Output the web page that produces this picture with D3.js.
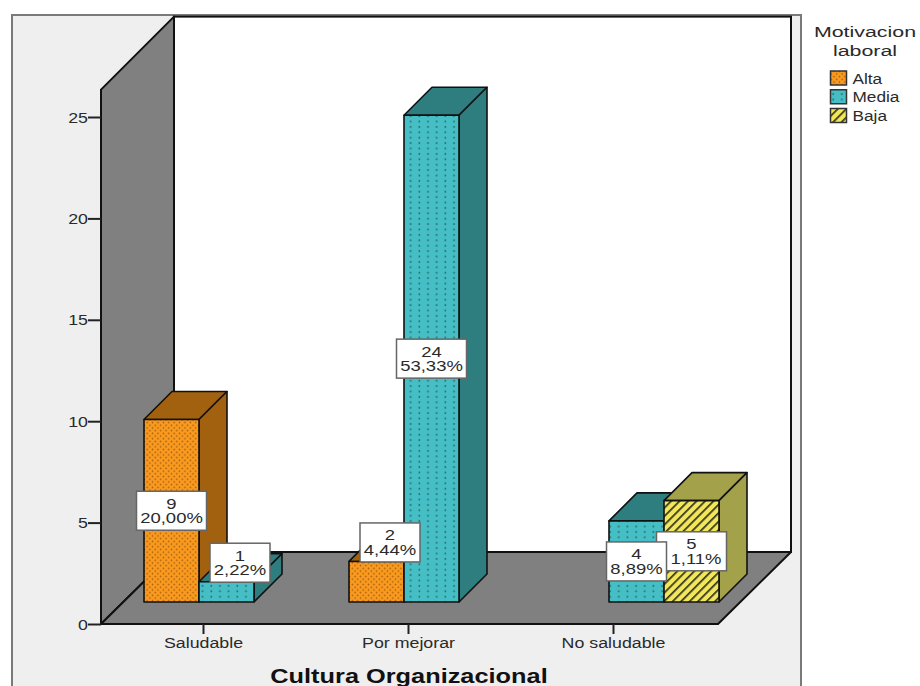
<!DOCTYPE html>
<html>
<head>
<meta charset="utf-8">
<script src="https://cdn.jsdelivr.net/npm/d3@7/dist/d3.min.js"></script>
<style>
  html, body { margin: 0; padding: 0; background: #fff; }
  svg { display: block; }
  text { font-family: "Liberation Sans", Arial, sans-serif; fill: #2a2a2a; }
</style>
</head>
<body>
<svg id="chart" width="920" height="686"></svg>
<script>
// Chart values
const categories = ["Saludable", "Por mejorar", "No saludable"];
const seriesNames = ["Alta", "Media", "Baja"];
const altaValues = [9, 2, null];
const mediaValues = [1, 24, 4];
const bajaValues = [null, null, 5];
const altaPercents = ["20,00%", "4,44%", null];
const mediaPercents = ["2,22%", "53,33%", "8,89%"];
const bajaPercents = [null, null, "1,11%"];
const yTicks = [0, 5, 10, 15, 20, 25];
const xTitle = "Cultura Organizacional";
const legendTitle = ["Motivacion", "laboral"];

const seriesValues = [altaValues, mediaValues, bajaValues];
const seriesPercents = [altaPercents, mediaPercents, bajaPercents];

const svg = d3.select("#chart");
const widen = 1.27;           // the type is set wider than its natural proportions

// Scales: the category band runs along the front edge of the floor
const x = d3.scaleBand().domain(categories).range([101, 716]);
const y = d3.scaleLinear().domain([0, 25]).range([624, 117]);
const slot = d3.scaleBand().domain(seriesNames).range([-59.5, 105.5]);

// 3D projection offsets
const wallDepth = 73;         // floor depth, in both x and y
const barDepth = 28;          // bar depth, in both x and y
const floorInset = 22;        // how far the bars stand back from the floor's front edge

const left = x.range()[0], right = 718, base = y(0), wallTop = y(26.35);

const fills = {
  Alta:  { front: "url(#patAlta)",  side: "#a2610f", top: "#a2610f" },
  Media: { front: "url(#patMedia)", side: "#2e7d7f", top: "#2e7d7f" },
  Baja:  { front: "url(#patBaja)",  side: "#a3a14a", top: "#a3a14a" }
};

// Fill patterns
const defs = svg.append("defs");
const altaPat = defs.append("pattern").attr("id", "patAlta").attr("patternUnits", "userSpaceOnUse")
  .attr("width", 5.4).attr("height", 5.4);
altaPat.append("rect").attr("width", 5.4).attr("height", 5.4).attr("fill", "#fb9a1e");
[[1.35, 1.35], [4.05, 4.05]].forEach(d => altaPat.append("circle").attr("cx", d[0]).attr("cy", d[1]).attr("r", 0.8).attr("fill", "#9a5f12"));

const mediaPat = defs.append("pattern").attr("id", "patMedia").attr("patternUnits", "userSpaceOnUse")
  .attr("width", 8.67).attr("height", 5.4);
mediaPat.append("rect").attr("width", 8.67).attr("height", 5.4).attr("fill", "#45bfc5");
mediaPat.append("rect").attr("x", 2.4).attr("y", 1.7).attr("width", 1.6).attr("height", 2).attr("fill", "#2b7475");

const bajaPat = defs.append("pattern").attr("id", "patBaja").attr("patternUnits", "userSpaceOnUse")
  .attr("width", 6).attr("height", 6).attr("patternTransform", "rotate(-45)");
bajaPat.append("rect").attr("width", 6).attr("height", 6).attr("fill", "#f2e75a");
bajaPat.append("rect").attr("width", 6).attr("height", 1.7).attr("fill", "#33331a");

// Outer panel
svg.append("rect").attr("x", 12).attr("y", 15).attr("width", 789).attr("height", 680)
  .attr("fill", "#efefef").attr("stroke", "#7a7a7a").attr("stroke-width", 2);

// Back wall, left wall and floor
const line = d3.line();
const poly = pts => line(pts) + "Z";
const floorY = base - wallDepth + 1;
svg.append("rect").attr("x", left + wallDepth).attr("y", wallTop - wallDepth)
  .attr("width", right + wallDepth - (left + wallDepth)).attr("height", floorY - (wallTop - wallDepth))
  .attr("fill", "#fff").attr("stroke", "#111").attr("stroke-width", 2);
svg.append("path").attr("d", poly([[left, wallTop], [left + wallDepth, wallTop - wallDepth], [left + wallDepth, floorY], [left, base]]))
  .attr("fill", "#808080").attr("stroke", "#111").attr("stroke-width", 2).attr("stroke-linejoin", "round");
svg.append("path").attr("d", poly([[left, base], [left + wallDepth, floorY], [right + wallDepth, floorY], [right, base]]))
  .attr("fill", "#808080").attr("stroke", "#111").attr("stroke-width", 2).attr("stroke-linejoin", "round");

// Flatten the data into one record per bar, drawn from left to right
const bars = [];
categories.forEach((c, ci) => seriesNames.forEach((s, si) => {
  const v = seriesValues[si][ci];
  if (v !== null) bars.push({ category: c, series: s, value: v, percent: seriesPercents[si][ci] });
}));

svg.append("g").selectAll("g").data(bars).join("g")
  .each(function (d) {
    const g = d3.select(this);
    const bw = slot.bandwidth();
    const x0 = x(d.category) + x.bandwidth() / 2 + slot(d.series);
    const x1 = x0 + bw;
    const yb = base - floorInset;
    const yt = y(d.value) - floorInset;
    d.cx = (x0 + x1) / 2;
    d.cy = (yt + yb) / 2;
    d.top = yt;
    const style = fills[d.series];
    const edge = sel => sel.attr("stroke", "#111").attr("stroke-width", 1.6).attr("stroke-linejoin", "round");
    g.append("path").attr("d", poly([[x0, yt], [x0 + barDepth, yt - barDepth], [x1 + barDepth, yt - barDepth], [x1, yt]]))
      .attr("fill", style.top).call(edge);
    g.append("path").attr("d", poly([[x1, yt], [x1 + barDepth, yt - barDepth], [x1 + barDepth, yb - barDepth], [x1, yb]]))
      .attr("fill", style.side).call(edge);
    g.append("rect").attr("x", x0).attr("y", yt).attr("width", bw).attr("height", yb - yt)
      .attr("fill", style.front).call(edge);
  });

// Axes
const axisStyle = g => {
  g.selectAll(".domain").attr("stroke", "#111").attr("stroke-width", 2);
  g.selectAll(".tick line").attr("stroke", "#222").attr("stroke-width", 2);
};
svg.append("g").attr("transform", `translate(${left},0)`)
  .call(d3.axisLeft(y).tickValues(yTicks).tickSize(13).tickSizeOuter(0).tickFormat(d3.format("d")))
  .call(axisStyle)
  .call(g => g.select(".domain").attr("d", `M0,${wallTop}V${base}`))
  .call(g => g.selectAll(".tick text")
    .attr("x", 0).attr("dy", "0.36em").attr("text-anchor", "end")
    .attr("transform", `translate(-13,0) scale(${widen},1)`)
    .style("font-size", "14px").style("font-family", null));

svg.append("g").attr("transform", `translate(0,${base})`)
  .call(d3.axisBottom(x).tickSize(10).tickSizeOuter(0))
  .call(axisStyle)
  .call(g => g.select(".domain").attr("d", `M${left},0H${right}`))
  .call(g => g.selectAll(".tick text")
    .attr("x", 0).attr("y", 0).attr("dy", 0).attr("text-anchor", "middle")
    .attr("transform", `translate(0,24) scale(${widen},1)`)
    .style("font-size", "14px").style("font-family", null));

// Axis title
svg.append("text").attr("text-anchor", "middle")
  .attr("transform", `translate(409,683) scale(1.3,1)`)
  .style("font-size", "19.5px").style("font-weight", "bold").style("fill", "#111")
  .text(xTitle);

// Value labels, last bar first so earlier labels sit on top where they overlap.
// The shortest bars carry theirs above and to the right. The Baja label is wider
// than its text, which sits to the right of the part covered by its neighbour.
const isBaja = d => d.series === "Baja";
const boxWidth = d => (d.percent.length > 5 || isBaja(d)) ? 70 : 60;
const labels = svg.append("g").selectAll("g").data(bars.slice().reverse()).join("g")
  .attr("transform", d => d.value < 3
    ? `translate(${d.cx + 13.5},${d.top - 19})`
    : `translate(${d.cx},${d.cy})`);
labels.append("rect")
  .attr("x", d => -boxWidth(d) / 2).attr("y", -19.5)
  .attr("width", boxWidth).attr("height", 39)
  .attr("fill", "#fff").attr("stroke", "#666").attr("stroke-width", 1.5);
labels.append("text").attr("text-anchor", "middle").attr("transform", `translate(0,-2) scale(1.32,1)`)
  .style("font-size", "14px").text(d => d.value);
labels.append("text").attr("text-anchor", "middle")
  .attr("transform", d => `translate(${isBaja(d) ? 4.5 : 0},12.5) scale(1.32,1)`)
  .style("font-size", "14px").text(d => d.percent);

// Legend
svg.append("g").selectAll("text").data(legendTitle).join("text")
  .attr("text-anchor", "middle")
  .attr("transform", (d, i) => `translate(865,${37 + i * 18.5}) scale(1.38,1)`)
  .style("font-size", "15.5px").text(d => d);
const legendRow = d3.scalePoint().domain(seriesNames).range([78, 115.5]);
const legend = svg.append("g").selectAll("g").data(seriesNames).join("g")
  .attr("transform", d => `translate(830,${legendRow(d)})`);
legend.append("rect").attr("x", 0.5).attr("y", -7).attr("width", 16).attr("height", 14)
  .attr("fill", d => fills[d].front).attr("stroke", "#333").attr("stroke-width", 1.5);
legend.append("text").attr("transform", `translate(22.5,5.5) scale(${widen - 0.04},1)`)
  .style("font-size", "14px").text(d => d);
</script>
</body>
</html>
